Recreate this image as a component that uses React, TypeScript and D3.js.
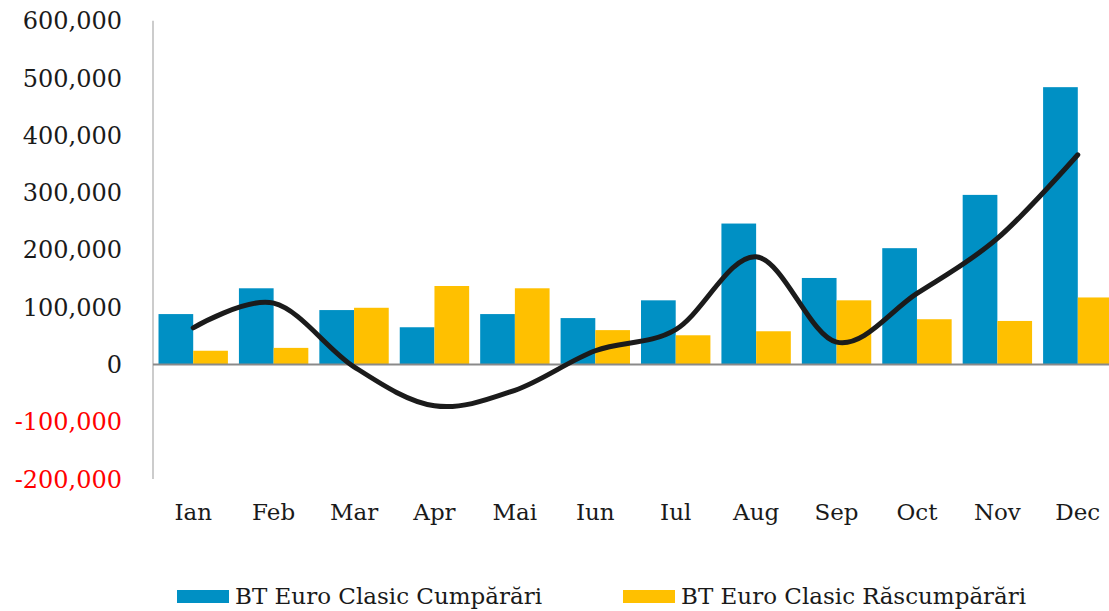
import React from "react";
import * as d3 from "d3";

const months = ["Ian", "Feb", "Mar", "Apr", "Mai", "Iun", "Iul", "Aug", "Sep", "Oct", "Nov", "Dec"];
const cumparari = [88000, 133000, 95000, 65000, 88000, 81000, 112000, 246000, 151000, 203000, 296000, 484000];
const rascumparari = [24000, 29000, 99000, 137000, 133000, 60000, 51000, 58000, 112000, 79000, 76000, 117000];
const net = [64000, 107000, -4000, -72000, -45000, 24000, 61000, 188000, 39000, 124000, 220000, 366000];
const yTicks = [-200000, -100000, 0, 100000, 200000, 300000, 400000, 500000, 600000];
const seriesNames = ["BT Euro Clasic Cumpărări", "BT Euro Clasic Răscumpărări"];

const W = 1109;
const H = 611;
const BLUE = "#0090c4";
const YELLOW = "#ffc000";
const FONT = "'DejaVu Serif', serif";

export default function App() {
  // plot runs a little past the right edge, like the original
  const x0 = d3.scaleBand<string>().domain(months).range([153, 1118]).paddingInner(0.137).paddingOuter(0.0685);
  const x1 = d3.scaleBand<string>().domain(["buy", "sell"]).range([0, x0.bandwidth()]);
  const y = d3.scaleLinear().domain([-200000, 600000]).range([479.1, 20.7]);
  // plain hyphen for negatives, not d3's unicode minus
  const fmt = (v: number) => d3.format(",")(v).replace("−", "-");

  const line = d3
    .line<number>()
    .x((_, i) => x0(months[i])! + x0.bandwidth() / 2)
    .y((d) => y(d))
    .curve(d3.curveCardinal.tension(0));

  return (
    <svg width={W} height={H} style={{ position: "absolute", left: 0, top: 0, background: "#fff" }}>
      {/* y axis labels */}
      {yTicks.map((t) => (
        <text
          key={t}
          x={122}
          y={y(t) + 8.5}
          textAnchor="end"
          fontFamily={FONT}
          fontSize={24}
          fill={t < 0 ? "#ff0000" : "#1a1a1a"}
        >
          {fmt(t)}
        </text>
      ))}
      <line x1={153} x2={153} y1={y(600000)} y2={y(-200000)} stroke="#cccccc" strokeWidth={2} />

      {/* bars */}
      {months.map((m, i) => (
        <g key={m} transform={`translate(${x0(m)},0)`}>
          <rect x={x1("buy")} y={y(cumparari[i])} width={x1.bandwidth()} height={y(0) - y(cumparari[i])} fill={BLUE} />
          <rect x={x1("sell")} y={y(rascumparari[i])} width={x1.bandwidth()} height={y(0) - y(rascumparari[i])} fill={YELLOW} />
        </g>
      ))}

      <line x1={153} x2={W} y1={y(0)} y2={y(0)} stroke="#8a8a8a" strokeWidth={2} />

      <path d={line(net) ?? ""} fill="none" stroke="#1b1b1b" strokeWidth={5} strokeLinecap="round" />

      {/* month labels */}
      {months.map((m) => (
        <text
          key={m}
          x={x0(m)! + x0.bandwidth() / 2}
          y={520}
          textAnchor="middle"
          fontFamily={FONT}
          fontSize={23}
          fill="#1a1a1a"
        >
          {m}
        </text>
      ))}

      {/* legend */}
      {[
        { name: seriesNames[0], color: BLUE, x: 177 },
        { name: seriesNames[1], color: YELLOW, x: 623 },
      ].map((d) => (
        <g key={d.name}>
          <rect x={d.x} y={590} width={52} height={13} fill={d.color} />
          <text x={d.x + 58} y={604} fontFamily={FONT} fontSize={23} fill="#1a1a1a">
            {d.name}
          </text>
        </g>
      ))}
    </svg>
  );
}
